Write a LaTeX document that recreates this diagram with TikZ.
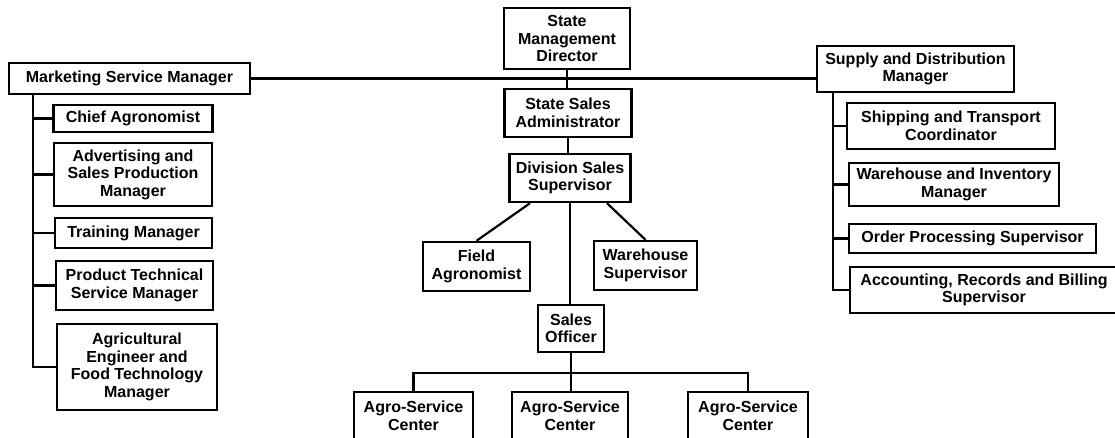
\documentclass[tikz,border=0pt]{standalone}
\usepackage{fontspec}
\setmainfont{Liberation Sans}

\begin{document}
\begin{tikzpicture}[x=1pt,y=-1pt,
    box/.style={draw,line width=2.4pt,align=center,inner sep=0pt,
      font=\bfseries\fontsize{16}{17.5}\selectfont},
    link/.style={line width=2.2pt}]
  \useasboundingbox (0,0) rectangle (1115,438);

  % centre column
  \node [box,minimum width=126pt,minimum height=61pt] (smd) at (567,38.5) {State\\Management\\Director};
  \node [box,minimum width=127pt,minimum height=48pt] (ssa) at (568,113) {State Sales\\Administrator};
  \node [box,minimum width=121pt,minimum height=48pt] (dss) at (570,178) {Division Sales\\Supervisor};
  \node [box,minimum width=107pt,minimum height=49pt] (fag) at (476.5,266.5) {Field\\Agronomist};
  \node [box,minimum width=103pt,minimum height=49pt] (whs) at (645.5,265.5) {Warehouse\\Supervisor};
  \node [box,minimum width=66pt,minimum height=47pt] (so) at (571,328.5) {Sales\\Officer};
  \node [box,minimum width=119pt,minimum height=48pt] (asc1) at (413.5,416) {Agro-Service\\Center};
  \node [box,minimum width=116pt,minimum height=48pt] (asc2) at (570,416) {Agro-Service\\Center};
  \node [box,minimum width=120pt,minimum height=48pt] (asc3) at (748,416) {Agro-Service\\Center};

  % marketing side
  \node [box,minimum width=241pt,minimum height=31pt] (msm) at (129.5,78.5) {Marketing Service Manager};
  \node [box,minimum width=159pt,minimum height=27pt] (ca) at (133,118.5) {Chief Agronomist};
  \node [box,minimum width=158pt,minimum height=63pt] (adv) at (133,174.5) {Advertising and\\Sales Production\\Manager};
  \node [box,minimum width=157pt,minimum height=30pt] (trn) at (133.5,233) {Training Manager};
  \node [box,minimum width=157pt,minimum height=49pt] (ptsm) at (134.5,285.5) {Product Technical\\Service Manager};
  \node [box,minimum width=160pt,minimum height=86pt] (aef) at (137,367) {Agricultural\\Engineer and\\Food Technology\\Manager};

  % supply side
  \node [box,minimum width=197pt,minimum height=46pt] (sdm) at (915.5,69) {Supply and Distribution\\Manager};
  \node [box,minimum width=208pt,minimum height=46pt] (stc) at (951,126) {Shipping and Transport\\Coordinator};
  \node [box,minimum width=210pt,minimum height=43pt] (wim) at (954,184.5) {Warehouse and Inventory\\Manager};
  \node [box,minimum width=247pt,minimum height=29pt] (ops) at (972.5,238.5) {Order Processing Supervisor};
  \node [box,minimum width=268pt,minimum height=46pt] (arb) at (984,290) {Accounting, Records and Billing\\Supervisor};

  \coordinate (ltop) at (33,94);
  \coordinate (rtop) at (833,92);
  \coordinate (bus) at (571,373);

  \draw [link] (msm.east) -- (msm.east -| sdm.west);
  \draw [link] (smd.south) -- (smd.south |- ssa.north);
  \draw [link] (ssa.south) -- (ssa.south |- dss.north);
  \draw [link] (dss.south) -- (dss.south |- so.north);
  \draw [link] ([xshift=-40pt]dss.south) -- (fag.north);
  \draw [link] ([xshift=37pt]dss.south) -- (whs.north);
  \draw [link] (so.south) -- (so.south |- asc2.north);
  \draw [link] (asc1.north) |- (bus) -| (asc3.north);

  \draw [link] (ltop) |- (aef.west);
  \foreach \n in {ca,adv,trn,ptsm}
    \draw [link] (\n.west) -- (\n.west -| ltop);

  \draw [link] (rtop) |- (arb.west);
  \foreach \n in {stc,wim,ops}
    \draw [link] (\n.west) -- (\n.west -| rtop);
\end{tikzpicture}
\end{document}
